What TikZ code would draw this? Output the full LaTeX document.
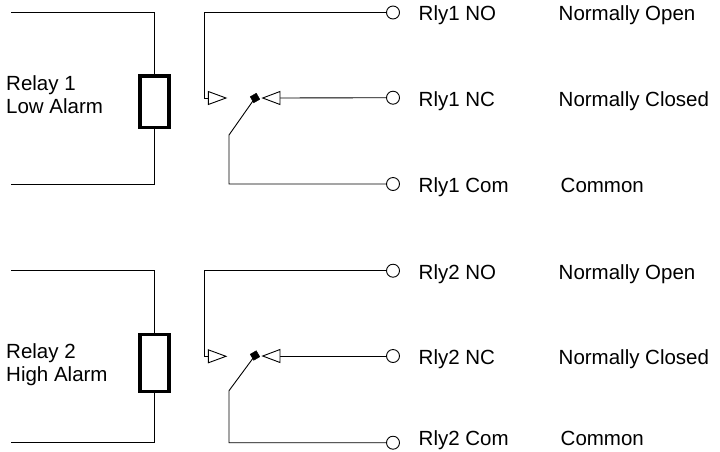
\documentclass[tikz,border=0pt]{standalone}
\usepackage{fontspec}
\setmainfont{Liberation Sans}
\begin{document}
\begin{tikzpicture}[x=1pt,y=-1pt,
  wire/.style={line width=0.9pt,black},
  coil/.style={draw,line width=3.4pt,inner sep=0pt,minimum width=29pt},
  term/.style={draw,circle,line width=0.9pt,fill=white,inner sep=0pt,minimum size=13pt},
  armsq/.style={draw,fill=black,inner sep=0pt,minimum size=7pt,rotate=30},
  lbl/.style={anchor=base west,inner sep=0pt,font=\fontsize{20.5}{23.4}\selectfont},
  tri/.style={line width=0.9pt,fill=white,line join=miter}]
\useasboundingbox (0,0) rectangle (720,451);

% ---------------- Block 1 ----------------
\coordinate (t1) at (11,12.5);
\coordinate (b1) at (11,184);
\node[coil,minimum height=51.3pt] (box1) at (154.5,101.7) {};
\draw[wire] (t1) -| (box1.north);
\draw[wire] (b1) -| (box1.south);
\node[lbl] (r1a) at (6,90) {Relay 1};
\node[lbl] (r1b) at (6,113.3) {Low Alarm};

\node[term] (no1) at (393,12.5) {};
\node[term] (nc1) at (393,97.7) {};
\node[term] (com1) at (393,184) {};
\coordinate (noc1) at (204.3,98);
\coordinate (nob1) at (208.3,98);
\coordinate (ncb1) at (280,98);
\coordinate (kk1) at (229,135);
\node[armsq] (arm1) at (255,98) {};
\draw[wire] (no1.west) -| (noc1) -- (nob1);
\draw[tri] (nob1) -- ++(0,-6.5) -- ++(17.7,6.5) -- ++(-17.7,6.5) -- cycle;
\draw[wire] (nc1.west) -- (ncb1);
\draw[tri] (ncb1) -- ++(0,-6.5) -- ++(-17.3,6.5) -- ++(17.3,6.5) -- cycle;
\draw[wire] (arm1.center) -- (kk1) |- (com1.west);

\node[lbl] (no1t) at (418.5,20.7) {Rly1 NO};
\node[lbl] (nc1t) at (418.5,106.5) {Rly1 NC};
\node[lbl] (com1t) at (418.5,192.5) {Rly1 Com};
\node[lbl] (no1d) at (558.5,20.7) {Normally Open};
\node[lbl] (nc1d) at (558.5,106.5) {Normally Closed};
\node[lbl] (com1d) at (560.5,192.5) {Common};

% ---------------- Block 2 ----------------
\coordinate (t2) at (11,270.7);
\coordinate (b2) at (11,442.7);
\node[coil,minimum height=57pt] (box2) at (154.5,363) {};
\draw[wire] (t2) -| (box2.north);
\draw[wire] (b2) -| (box2.south);
\node[lbl] (r2a) at (6,358.3) {Relay 2};
\node[lbl] (r2b) at (6,381.7) {High Alarm};

\node[term] (no2) at (393,270.7) {};
\node[term] (nc2) at (393,356) {};
\node[term] (com2) at (393,442.7) {};
\coordinate (noc2) at (204.3,356.3);
\coordinate (nob2) at (208.3,356.3);
\coordinate (ncb2) at (280,356);
\coordinate (kk2) at (229,390.7);
\node[armsq] (arm2) at (255,355.5) {};
\draw[wire] (no2.west) -| (noc2) -- (nob2);
\draw[tri] (nob2) -- ++(0,-6.5) -- ++(17.7,6.5) -- ++(-17.7,6.5) -- cycle;
\draw[wire] (nc2.west) -- (ncb2);
\draw[tri] (ncb2) -- ++(0,-6.5) -- ++(-17.3,6.5) -- ++(17.3,6.5) -- cycle;
\draw[wire] (arm2.center) -- (kk2) |- (com2.west);

\node[lbl] (no2t) at (418.5,279.2) {Rly2 NO};
\node[lbl] (nc2t) at (418.5,364.2) {Rly2 NC};
\node[lbl] (com2t) at (418.5,445.7) {Rly2 Com};
\node[lbl] (no2d) at (558.5,279.2) {Normally Open};
\node[lbl] (nc2d) at (558.5,364.2) {Normally Closed};
\node[lbl] (com2d) at (560.5,445.7) {Common};
\end{tikzpicture}
\end{document}
